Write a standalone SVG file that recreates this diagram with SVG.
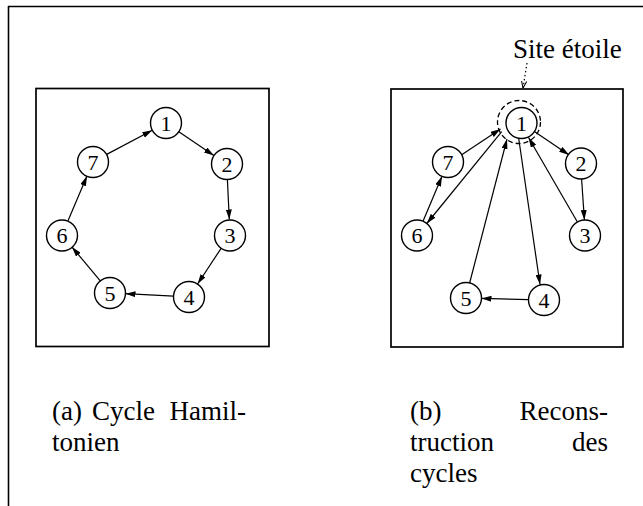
<svg xmlns="http://www.w3.org/2000/svg" width="643" height="506" viewBox="0 0 643 506">
  <style>
    .frame { fill: none; stroke: #000; stroke-width: 1.6; }
    .box { fill: none; stroke: #000; stroke-width: 1.7; }
    .node circle { fill: #fff; stroke: #000; stroke-width: 1.4; }
    .node text { font-family: "Liberation Serif", "Times New Roman", serif; font-size: 22px; text-anchor: middle; fill: #000; }
    .edge { fill: none; stroke: #000; stroke-width: 1.2; marker-end: url(#arr); }
    .lbl { font-family: "Liberation Serif", "Times New Roman", serif; font-size: 27px; fill: #000; }
  </style>
  <defs>
    <marker id="arr" viewBox="0 0 10 6" refX="10" refY="3" markerWidth="10" markerHeight="6" markerUnits="userSpaceOnUse" orient="auto">
      <path d="M0,0 L10,3 L0,6 z" fill="#000"/>
    </marker>
    <marker id="arrs" viewBox="0 0 8 6" refX="8" refY="3" markerWidth="7" markerHeight="6" markerUnits="userSpaceOnUse" orient="auto">
      <path d="M0,0 L8,3 L0,6" fill="none" stroke="#000" stroke-width="1.2"/>
    </marker>
  </defs>
  <rect width="643" height="506" fill="#fff"/>

  <g id="frame">
    <line class="frame" x1="8" y1="6.5" x2="643" y2="6.5" stroke-width="2"/>
    <line class="frame" x1="8.5" y1="6" x2="8.5" y2="506"/>
  </g>

  <g id="panel-a">
    <rect class="box" x="36" y="88.5" width="233" height="258"/>
  </g>
  <g id="panel-b">
    <rect class="box" x="391" y="89" width="232" height="258"/>
  </g>

  <g id="connectors">
    <!-- panel a -->
    <line class="edge" x1="178.8" y1="131.7" x2="213.9" y2="155.6"/>
    <line class="edge" x1="227.4" y1="179.5" x2="229.3" y2="219.5"/>
    <line class="edge" x1="221.4" y1="247.9" x2="197.6" y2="284"/>
    <line class="edge" x1="173.5" y1="296.2" x2="125.5" y2="293.7"/>
    <line class="edge" x1="100.7" y1="281.4" x2="71.9" y2="246.9"/>
    <line class="edge" x1="68" y1="220.7" x2="87" y2="176"/>
    <line class="edge" x1="106.7" y1="154.4" x2="152.3" y2="130.3"/>
    <!-- panel b -->
    <line class="edge" x1="461.7" y1="154.7" x2="500.5" y2="129"/>
    <line class="edge" x1="501.7" y1="131.7" x2="426.8" y2="223.5"/>
    <line class="edge" x1="423" y1="221.2" x2="442" y2="176.3"/>
    <line class="edge" x1="534.4" y1="131.6" x2="569.1" y2="154.9"/>
    <line class="edge" x1="581.6" y1="179" x2="584.4" y2="220"/>
    <line class="edge" x1="577.4" y1="222" x2="528.5" y2="137.5"/>
    <line class="edge" x1="518.5" y1="137" x2="540" y2="284.5"/>
    <line class="edge" x1="528.5" y1="299.6" x2="481.5" y2="298.4"/>
    <line class="edge" x1="469.5" y1="283.5" x2="507" y2="139"/>
    <!-- pointer to star site -->
    <line x1="527" y1="63" x2="523" y2="88" fill="none" stroke="#000" stroke-width="1.2" stroke-dasharray="1.5 2.5" marker-end="url(#arrs)"/>
  </g>

  <g id="star-site">
    <circle cx="519" cy="122" r="21.5" fill="none" stroke="#000" stroke-width="1.3" stroke-dasharray="5 3"/>
    <text class="lbl" x="513" y="58" font-size="26">Site étoile</text>
  </g>

  <g id="a1" class="node"><circle cx="166" cy="123" r="15.5"/><text x="166" y="130.5">1</text></g>
  <g id="a2" class="node"><circle cx="227" cy="164" r="15.5"/><text x="227" y="171.5">2</text></g>
  <g id="a3" class="node"><circle cx="230" cy="235.5" r="15.5"/><text x="230" y="243">3</text></g>
  <g id="a4" class="node"><circle cx="189" cy="297" r="15.5"/><text x="189" y="304.5">4</text></g>
  <g id="a5" class="node"><circle cx="110" cy="293" r="15.5"/><text x="110" y="300.5">5</text></g>
  <g id="a6" class="node"><circle cx="62" cy="235.5" r="15.5"/><text x="62" y="243">6</text></g>
  <g id="a7" class="node"><circle cx="93" cy="162" r="15.5"/><text x="93" y="169.5">7</text></g>

  <g id="b1" class="node"><circle cx="521.5" cy="123" r="15.5"/><text x="521.5" y="130.5">1</text></g>
  <g id="b2" class="node"><circle cx="581" cy="163.5" r="15.5"/><text x="581" y="171">2</text></g>
  <g id="b3" class="node"><circle cx="585" cy="235.5" r="15.5"/><text x="585" y="243">3</text></g>
  <g id="b4" class="node"><circle cx="544" cy="300" r="15.5"/><text x="544" y="307.5">4</text></g>
  <g id="b5" class="node"><circle cx="466" cy="298" r="15.5"/><text x="466" y="305.5">5</text></g>
  <g id="b6" class="node"><circle cx="417" cy="235.5" r="15.5"/><text x="417" y="243">6</text></g>
  <g id="b7" class="node"><circle cx="448" cy="162" r="15.5"/><text x="448" y="169.5">7</text></g>

  <g id="caption-a">
    <text class="lbl" y="420"><tspan x="52">(a)</tspan><tspan x="92">Cycle</tspan><tspan x="246" text-anchor="end">Hamil-</tspan></text>
    <text class="lbl" x="52" y="451">tonien</text>
  </g>
  <g id="caption-b">
    <text class="lbl" y="420"><tspan x="410">(b)</tspan><tspan x="608" text-anchor="end">Recons-</tspan></text>
    <text class="lbl" y="451"><tspan x="410">truction</tspan><tspan x="608" text-anchor="end">des</tspan></text>
    <text class="lbl" x="410" y="482">cycles</text>
  </g>
</svg>
